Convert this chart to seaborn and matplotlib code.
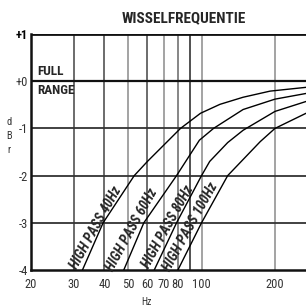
import numpy as np
import pandas as pd
import matplotlib
matplotlib.use("Agg")
import matplotlib.pyplot as plt
from matplotlib import font_manager
import seaborn as sns

hp40_hz = [32.5, 39.5, 53, 60, 82, 99, 119, 148, 191, 268]
hp40_db = [-4.0, -3.0, -2.0, -1.7, -1.0, -0.68, -0.49, -0.34, -0.21, -0.13]
hp60_hz = [48, 58, 79, 98, 112, 148, 200, 268]
hp60_db = [-4.0, -3.0, -2.0, -1.25, -1.0, -0.6, -0.38, -0.26]
hp80_hz = [64, 79, 100, 108, 128, 148, 200, 268]
hp80_db = [-4.0, -3.0, -2.0, -1.7, -1.3, -1.04, -0.64, -0.43]
hp100_hz = [80, 100, 128, 174, 200, 268]
hp100_db = [-4.0, -3.0, -2.0, -1.28, -1.0, -0.68]

filters = ["HIGH PASS 40Hz", "HIGH PASS 60Hz", "HIGH PASS 80Hz", "HIGH PASS 100Hz"]
label_pos_hz = [37.0, 52.0, 73.0, 90.0]
label_pos_db = [-3.1, -3.15, -3.08, -3.08]

x_ticks = [20, 30, 40, 50, 60, 70, 80, 100, 200]
x_grid = [30, 40, 50, 60, 70, 80, 90, 100, 200]
x_grid_col = ["#444444", "#444444", "#8a8a8a", "#444444", "#8a8a8a", "#666666", "#222222", "#8a8a8a", "#8a8a8a"]
y_ticks = [1, 0, -1, -2, -3, -4]
y_labels = ["+1", "+0", "-1", "-2", "-3", "-4"]

df = pd.concat([
    pd.DataFrame({"Hz": hp40_hz, "dB": hp40_db, "filter": filters[0]}),
    pd.DataFrame({"Hz": hp60_hz, "dB": hp60_db, "filter": filters[1]}),
    pd.DataFrame({"Hz": hp80_hz, "dB": hp80_db, "filter": filters[2]}),
    pd.DataFrame({"Hz": hp100_hz, "dB": hp100_db, "filter": filters[3]}),
])


def first_font(names):
    for n in names:
        try:
            font_manager.findfont(font_manager.FontProperties(family=n), fallback_to_default=False)
            return n
        except Exception:
            pass
    return None


cond = first_font(["Liberation Sans Narrow", "DejaVu Sans Condensed", "Roboto Condensed"])
narrow = [cond, "DejaVu Sans"] if cond else ["DejaVu Sans"]
shrink = 1.0 if cond else 0.78

sns.set_style("white")
plt.rcParams["font.family"] = narrow

fig = plt.figure(figsize=(3.06, 3.07), dpi=100)
ax = fig.add_axes([31 / 306, 1 - 270 / 307, 1 - 31 / 306, 236 / 307])

# rasterlijnen
for x, c in zip(x_grid, x_grid_col):
    ax.axvline(x, color=c, lw=1.1, zorder=1)
for y in [-1, -2, -3]:
    ax.axhline(y, color="#333333", lw=1.3, zorder=1)
ax.axhline(0, color="#111111", lw=1.6, zorder=1)
ax.axhline(1, color="#111111", lw=2.0, zorder=1)

sns.lineplot(data=df, x="Hz", y="dB", units="filter", estimator=None,
             color="black", lw=1.0, ax=ax, zorder=3)

ax.set_xscale("log")
ax.set_xlim(20, 268)
ax.set_ylim(-4, 1)
ax.xaxis.set_major_locator(matplotlib.ticker.FixedLocator(x_ticks))
ax.xaxis.set_minor_locator(matplotlib.ticker.NullLocator())
ax.set_xticklabels([str(t) for t in x_ticks], fontsize=9 * shrink, color="#333333")
ax.set_yticks(y_ticks)
ax.set_yticklabels(y_labels, fontsize=9 * shrink, color="#333333")
ax.get_yticklabels()[0].set_fontweight("bold")
ax.get_yticklabels()[0].set_color("black")
ax.tick_params(axis="both", length=0, pad=2)
ax.tick_params(axis="x", pad=6)

for s in ["top", "right"]:
    ax.spines[s].set_visible(False)
for s in ["left", "bottom"]:
    ax.spines[s].set_color("#111111")
    ax.spines[s].set_linewidth(1.8)

ax.set_xlabel("")
ax.set_ylabel("")
fig.text(146 / 306, 1 - 302 / 307, "Hz", fontsize=7 * shrink, color="#333333", ha="center", va="center")
fig.text(9 / 306, 1 - 136 / 307, "d\nB\nr", fontsize=7.5 * shrink, color="#333333",
         ha="center", va="center", linespacing=1.5)

for name, hx, hy in zip(filters, label_pos_hz, label_pos_db):
    ax.text(hx, hy, name, rotation=61, rotation_mode="anchor", ha="center", va="center",
            fontsize=10 * shrink, fontweight="bold", fontstyle="italic", zorder=4)

ax.text(21.2, 0.06, "FULL", fontsize=9.5 * shrink, fontweight="bold", ha="left", va="bottom")
ax.text(21.2, -0.06, "RANGE", fontsize=9.5 * shrink, fontweight="bold", ha="left", va="top")

fig.text(184 / 306, 1 - 18 / 307, "WISSELFREQUENTIE", fontsize=11 * shrink, fontweight="bold",
         ha="center", va="center")

fig.savefig("out.png", dpi=100)
